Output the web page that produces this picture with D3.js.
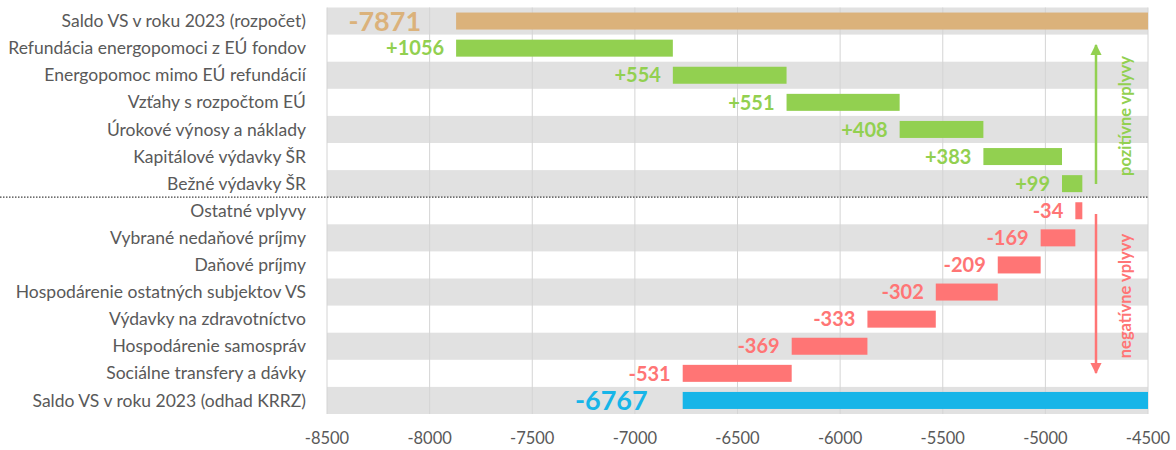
<!DOCTYPE html>
<html>
<head>
<meta charset="utf-8">
<script src="https://cdn.jsdelivr.net/npm/d3@7"></script>
<style>
  body { margin: 0; background: #fff; }
  text { font-family: Lato, "Open Sans", sans-serif; }
</style>
</head>
<body>
<div id="chart"></div>
<script>
// data
var categories = [
  "Saldo VS v roku 2023 (rozpočet)",
  "Refundácia energopomoci z EÚ fondov",
  "Energopomoc mimo EÚ refundácií",
  "Vzťahy s rozpočtom EÚ",
  "Úrokové výnosy a náklady",
  "Kapitálové výdavky ŠR",
  "Bežné výdavky ŠR",
  "Ostatné vplyvy",
  "Vybrané nedaňové príjmy",
  "Daňové príjmy",
  "Hospodárenie ostatných subjektov VS",
  "Výdavky na zdravotníctvo",
  "Hospodárenie samospráv",
  "Sociálne transfery a dávky",
  "Saldo VS v roku 2023 (odhad KRRZ)"
];
var startValue = -7871;
var endValue = -6767;
var changes = [1056, 554, 551, 408, 383, 99, -34, -169, -209, -302, -333, -369, -531];
var tickValues = [-8500, -8000, -7500, -7000, -6500, -6000, -5500, -5000, -4500];

var W = 1176, H = 450;
var plotLeft = 327, plotRight = 1148, plotTop = 7.5, plotBottom = 414;

var svg = d3.select("#chart").append("svg")
  .attr("width", W).attr("height", H);

var x = d3.scaleLinear().domain([-8500, -4500]).range([plotLeft, plotRight]);
var y = d3.scaleBand().domain(categories).range([plotTop, plotBottom]);
var barH = 17;

// build waterfall rows
var rows = [];
rows.push({ cat: categories[0], x0: startValue, x1: -4500, label: String(startValue), kind: "start" });
var run = startValue;
changes.forEach(function(c, i) {
  var a = run, b = run + c;
  rows.push({ cat: categories[i + 1], x0: Math.min(a, b), x1: Math.max(a, b),
    label: (c > 0 ? "+" : "") + c, kind: c > 0 ? "pos" : "neg" });
  run = b;
});
rows.push({ cat: categories[14], x0: endValue, x1: -4500, label: String(endValue), kind: "end" });

var colors = { start: "#DBB27B", pos: "#92D050", neg: "#FF7575", end: "#17B5E8" };

// alternating bands
svg.append("g").selectAll("rect")
  .data(categories.filter(function(d, i) { return i % 2 == 0; }))
  .enter().append("rect")
  .attr("x", plotLeft).attr("width", plotRight - plotLeft)
  .attr("y", function(d) { return y(d); })
  .attr("height", y.bandwidth())
  .attr("fill", "#E1E1E1");

// gridlines
svg.append("g").selectAll("line")
  .data(tickValues)
  .enter().append("line")
  .attr("x1", function(d) { return x(d); }).attr("x2", function(d) { return x(d); })
  .attr("y1", plotTop).attr("y2", plotBottom)
  .attr("stroke", "#D4D4D4").attr("stroke-width", 1);

// bars
svg.append("g").selectAll("rect")
  .data(rows)
  .enter().append("rect")
  .attr("x", function(d) { return x(d.x0); })
  .attr("width", function(d) { return Math.max(1, x(d.x1) - x(d.x0)); })
  .attr("y", function(d) { return y(d.cat) + (y.bandwidth() - barH) / 2; })
  .attr("height", barH)
  .attr("fill", function(d) { return colors[d.kind]; });

// value labels
svg.append("g").selectAll("text")
  .data(rows)
  .enter().append("text")
  .attr("x", function(d) {
    var big = d.kind == "start" || d.kind == "end";
    return x(d.x0) - (big ? 35 : 12);
  })
  .attr("y", function(d) { return y(d.cat) + y.bandwidth() / 2; })
  .attr("dy", "0.36em")
  .attr("text-anchor", "end")
  .attr("font-weight", "bold")
  .attr("font-size", function(d) { return d.kind == "start" || d.kind == "end" ? 27 : 20; })
  .attr("fill", function(d) { return colors[d.kind]; })
  .text(function(d) { return d.label; });

// category labels
svg.append("g").selectAll("text")
  .data(categories)
  .enter().append("text")
  .attr("x", 306)
  .attr("y", function(d) { return y(d) + y.bandwidth() / 2; })
  .attr("dy", "0.35em")
  .attr("text-anchor", "end")
  .attr("font-size", 17.5)
  .attr("fill", "#595959")
  .text(function(d) { return d; });

// x axis labels
svg.append("g").selectAll("text")
  .data(tickValues)
  .enter().append("text")
  .attr("x", function(d) { return x(d); })
  .attr("y", 438)
  .attr("dy", "0.35em")
  .attr("text-anchor", "middle")
  .attr("font-size", 16.5)
  .attr("fill", "#595959")
  .text(function(d) { return d; });

// dotted divider between positive and negative effects
var divY = y(categories[7]);
svg.append("line")
  .attr("x1", 0).attr("x2", plotRight)
  .attr("y1", divY).attr("y2", divY)
  .attr("stroke", "#404040").attr("stroke-width", 1.3)
  .attr("stroke-dasharray", "1.5,1.5");

// arrows
var defs = svg.append("defs");
function marker(id, color) {
  defs.append("marker")
    .attr("id", id).attr("viewBox", "0 0 10 10")
    .attr("refX", 9).attr("refY", 5)
    .attr("markerWidth", 4.5).attr("markerHeight", 4.5)
    .attr("orient", "auto")
    .append("path").attr("d", "M0,0L10,5L0,10Z").attr("fill", color);
}
marker("arrG", colors.pos);
marker("arrR", colors.neg);

var arrX = 1096;
svg.append("line")
  .attr("x1", arrX).attr("x2", arrX).attr("y1", 184).attr("y2", 45)
  .attr("stroke", colors.pos).attr("stroke-width", 2.5)
  .attr("marker-end", "url(#arrG)");
svg.append("line")
  .attr("x1", arrX).attr("x2", arrX).attr("y1", 214).attr("y2", 373)
  .attr("stroke", colors.neg).attr("stroke-width", 2.5)
  .attr("marker-end", "url(#arrR)");

svg.append("text")
  .attr("transform", "translate(1125,116) rotate(-90)")
  .attr("dy", "0.35em")
  .attr("text-anchor", "middle")
  .attr("font-size", 16.5).attr("font-weight", "bold")
  .attr("fill", colors.pos)
  .text("pozitívne vplyvy");
svg.append("text")
  .attr("transform", "translate(1125,296) rotate(-90)")
  .attr("dy", "0.35em")
  .attr("text-anchor", "middle")
  .attr("font-size", 16.5).attr("font-weight", "bold")
  .attr("fill", colors.neg)
  .text("negatívne vplyvy");
</script>
</body>
</html>
